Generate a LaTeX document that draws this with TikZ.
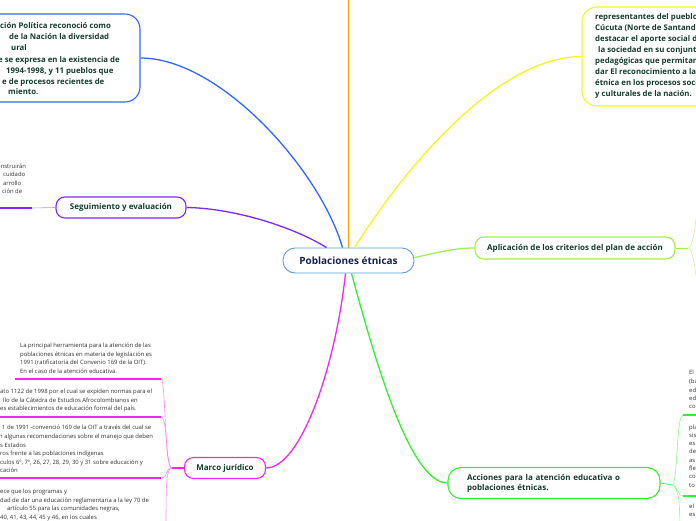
\documentclass[tikz,border=0pt]{standalone}
\usepackage{fontspec}
\setmainfont{Open Sans}
\definecolor{cblue}{RGB}{51,102,255}
\definecolor{corange}{RGB}{255,153,0}
\definecolor{cyellow}{RGB}{245,245,30}
\definecolor{cpurple}{RGB}{127,40,240}
\definecolor{cpurplel}{RGB}{185,150,250}
\definecolor{cmagenta}{RGB}{240,40,240}
\definecolor{cmagental}{RGB}{248,140,248}
\definecolor{clgreen}{RGB}{160,240,80}
\definecolor{clgreenl}{RGB}{200,248,150}
\definecolor{cgreen}{RGB}{50,240,50}
\definecolor{cgreenl}{RGB}{140,248,140}
\definecolor{ccenter}{RGB}{90,160,215}
\definecolor{ctxt}{RGB}{20,60,45}
\definecolor{cnavy}{RGB}{25,35,80}
\definecolor{csmall}{RGB}{50,50,50}
\begin{document}
\begin{tikzpicture}[x=1pt,y=-1pt,
  topic/.style={draw, fill=white, line width=1.1pt, text=ctxt, font=\bfseries\fontsize{8}{10}\selectfont, inner sep=0pt},
  bigbox/.style={draw, line width=1.1pt, rounded corners=15pt, inner sep=0pt},
  boxtext/.style={anchor=base west, inner sep=0pt, text=ctxt, font=\bfseries\fontsize{7.8}{9}\selectfont},
  small/.style={anchor=base west, inner sep=0pt, text=csmall, font=\fontsize{5.9}{7}\selectfont},
  mainline/.style={line width=1.3pt},
  subline/.style={line width=0.6pt},
  uline/.style={line width=1.6pt}
]
\useasboundingbox (0,0) rectangle (696,520);

% ---------- main nodes ----------
\node[topic, draw=ccenter, line width=0.9pt, rounded corners=12pt, minimum width=131pt, minimum height=25pt, text=cnavy, font=\bfseries\fontsize{10}{12}\selectfont] (c) at (348.5,260.5) {Poblaciones étnicas};

\node[bigbox, draw=cblue, minimum width=165pt, minimum height=88pt] (tl) at (57.5,58) {};
\node[bigbox, draw=cyellow, minimum width=140pt, minimum height=99pt] (yb) at (652,56.5) {};

\node[topic, draw=cpurple, rounded corners=9pt, minimum width=130pt, minimum height=21pt] (seg) at (121,207.5) {Seguimiento y evaluación};
\node[topic, draw=cmagenta, rounded corners=9pt, minimum width=81pt, minimum height=21pt] (marco) at (225,468) {Marco jurídico};
\node[topic, draw=clgreen, rounded corners=9pt, minimum width=200pt, minimum height=22pt] (apl) at (575,248) {Aplicación de los criterios del plan de acción};
\node[topic, draw=cgreen, rounded corners=13pt, minimum width=212pt, minimum height=31pt, align=left, text width=174pt, inner xsep=19pt] (acc) at (554,483) {Acciones para la atención educativa o\\poblaciones étnicas.};

% ---------- main connectors ----------
\coordinate (otop) at (348.5,-2);
\draw[mainline, corange] (c.north) -- (otop);
\draw[mainline, cblue] ([xshift=-6pt]c.north) .. controls (320,170) and (220,58) .. (tl.east);
\draw[mainline, cyellow] ([xshift=6pt]c.north) .. controls (410,160) and (500,57) .. (yb.west);
\draw[mainline, cpurple] ([xshift=-22pt]c.north) .. controls (290,225) and (230,208) .. (seg.east);
\draw[mainline, cmagenta] ([xshift=-3pt]c.south) .. controls (335,370) and (300,468) .. (marco.east);
\draw[mainline, cgreen] ([xshift=3pt]c.south) .. controls (375,360) and (410,483) .. (acc.west);
\draw[mainline, clgreen] ([yshift=3pt]c.east) .. controls (440,252) and (455,248) .. (apl.west);

% ---------- top-left box text ----------
\node[boxtext] (tl1) at (0,28) {ción Política reconoció como};
\node[boxtext] (tl2) at (9,39) {de la Nación la diversidad};
\node[boxtext] (tl3) at (11,50) {ural};
\node[boxtext] (tl4) at (-2,62) {e se expresa en la existencia de};
\node[boxtext] (tl5) at (6,73) {1994-1998, y 11 pueblos  que};
\node[boxtext] (tl6) at (2,84) {e de procesos recientes de};
\node[boxtext] (tl7) at (8,94) {miento.};

% ---------- yellow box text ----------
\node[boxtext] (y1) at (595,19) {representantes del pueblo};
\node[boxtext] (y2) at (595,30) {Cúcuta (Norte de Santander)};
\node[boxtext] (y3) at (595,41) {destacar el aporte social de};
\node[boxtext] (y4) at (598,52) {la sociedad en su conjunto};
\node[boxtext] (y5) at (595,63) {pedagógicas que permitan};
\node[boxtext] (y6) at (595,74) {dar El reconocimiento a la};
\node[boxtext] (y7) at (595,85) {étnica en los procesos sociales};
\node[boxtext] (y8) at (595,96) {y culturales de la nación.};

% ---------- Seguimiento branch ----------
\coordinate (segu) at (32,208);
\coordinate (segl) at (-3,208);
\draw[subline, cpurplel] (seg.west) -- (segu);
\draw[uline, cpurple] (segu) -- (segl);
\node[small] (s1) at (-3,168.5) {onstruirán};
\node[small] (s2) at (3,176.5) {cuidado};
\node[small] (s3) at (3,185) {arrollo};
\node[small] (s4) at (2,193.5) {ción de};

% ---------- Marco jurídico branch ----------
\coordinate (mhub) at (172,468);
\draw[uline, cmagenta] (marco.west) -- (mhub);
\coordinate (ma1) at (15,379);   \coordinate (ma2) at (161,379);
\coordinate (mb1) at (-3,417);   \coordinate (mb2) at (161,417);
\coordinate (mc1) at (-3,478);   \coordinate (mc2) at (161,478);
\coordinate (md2) at (166,540);
\draw[uline, cmagenta] (ma1) -- (ma2);
\draw[uline, cmagenta] (mb1) -- (mb2);
\draw[uline, cmagenta] (mc1) -- (mc2);
\draw[subline, cmagental] (mhub) .. controls (164,468) and (166,379) .. (ma2);
\draw[subline, cmagental] (mhub) .. controls (165,468) and (168,417) .. (mb2);
\draw[subline, cmagental] (mhub) .. controls (165,468) and (168,478) .. (mc2);
\draw[subline, cmagental] (mhub) .. controls (166,470) and (166,480) .. (md2);

\node[small] (a1) at (20,347.5) {La principal herramienta para la atención de las};
\node[small] (a2) at (20,356) {poblaciones étnicas en materia de legislación es};
\node[small] (a3) at (20,364.5) {1991 (ratificatoria del Convenio 169 de la OIT).};
\node[small] (a4) at (20,373) {En el caso de la atención educativa.};

\node[small] (b1) at (0,393.5) {ato 1122 de 1998 por el cual se expiden normas para el};
\node[small] (b2) at (3,402) {llo de la Cátedra de Estudios Afrocolombianos en};
\node[small] (b3) at (0,410.5) {es establecimientos de educación formal del país.};

\node[small] (c1) at (2,429.5) {1 de 1991 -convenció 169 de la OIT a través del cual se};
\node[small] (c2) at (-1,438.5) {n algunas recomendaciones sobre el manejo que deben};
\node[small] (c3) at (0,447) {s Estados};
\node[small] (c4) at (0,455.5) {ros frente a las poblaciones indígenas};
\node[small] (c5) at (0,464) {culos 6º, 7º, 26, 27, 28, 29, 30 y 31 sobre educación y};
\node[small] (c6) at (0,472.5) {cación};

\node[small] (d1) at (0,493.5) {ece que los programas y};
\node[small] (d2) at (0,502) {dad de dar una educación reglamentaria a la ley 70 de};
\node[small] (d3) at (7,510.5) {artículo 55 para las comunidades negras,};
\node[small] (d4) at (0,519) {40, 41, 43, 44, 45 y 46, en los cuales};

% ---------- Aplicacion branch ----------
\coordinate (ahub) at (688,248);
\coordinate (aup) at (699,200);
\coordinate (adn) at (699,296);
\draw[subline, clgreen] (apl.east) -- (ahub);
\draw[subline, clgreenl] (ahub) .. controls (694,248) and (696,215) .. (aup);
\draw[subline, clgreenl] (ahub) .. controls (694,248) and (696,280) .. (adn);

% ---------- Acciones branch ----------
\coordinate (chub) at (672,485);
\coordinate (cu1) at (683,415); \coordinate (cu1e) at (700,415);
\coordinate (cu2) at (683,496); \coordinate (cu2e) at (700,496);
\coordinate (cu3) at (680,530);
\draw[subline, cgreen] (acc.east) -- (chub);
\draw[uline, cgreen] (cu1) -- (cu1e);
\draw[uline, cgreen] (cu2) -- (cu2e);
\draw[subline, cgreenl] (chub) .. controls (678,485) and (676,415) .. (cu1);
\draw[subline, cgreenl] (chub) .. controls (678,485) and (677,496) .. (cu2);
\draw[subline, cgreenl] (chub) .. controls (678,487) and (680,500) .. (cu3);

\node[small] (r1) at (689,374.5) {El};
\node[small] (r2) at (689,383.5) {(ba};
\node[small] (r3) at (689,392) {edu};
\node[small] (r4) at (689,400.5) {edu};
\node[small] (r5) at (689,408.5) {con};
\node[small] (r6) at (689,429.5) {pla};
\node[small] (r7) at (689,437.5) {sis};
\node[small] (r8) at (689,445.5) {es};
\node[small] (r9) at (689,453.5) {de};
\node[small] (r10) at (689,462) {as};
\node[small] (r11) at (689,470) {fle};
\node[small] (r12) at (689,478.5) {co};
\node[small] (r13) at (689,487.5) {to};
\node[small] (r14) at (689,508.5) {el};
\node[small] (r15) at (689,516.5) {es};
\end{tikzpicture}
\end{document}
